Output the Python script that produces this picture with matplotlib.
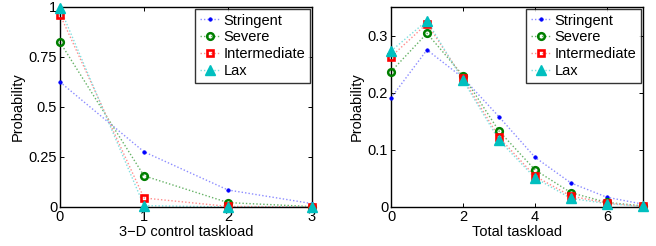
import matplotlib
matplotlib.use("Agg")
import matplotlib.pyplot as plt
import numpy as np
from matplotlib.lines import Line2D

plt.rcParams['font.family'] = ['Liberation Sans', 'DejaVu Sans']

x_left = [0, 1, 2, 3]
left_stringent = [0.625, 0.276, 0.085, 0.017]
left_severe = [0.824, 0.156, 0.022, 0.002]
left_intermediate = [0.962, 0.045, 0.003, 0.0]
left_lax = [0.995, 0.007, 0.0, 0.0]

x_right = [0, 1, 2, 3, 4, 5, 6, 7]
right_stringent = [0.191, 0.275, 0.226, 0.158, 0.087, 0.042, 0.017, 0.005]
right_severe = [0.237, 0.304, 0.230, 0.133, 0.065, 0.025, 0.008, 0.002]
right_intermediate = [0.263, 0.321, 0.225, 0.122, 0.054, 0.019, 0.007, 0.001]
right_lax = [0.273, 0.326, 0.222, 0.117, 0.051, 0.015, 0.006, 0.001]

labels = ['Stringent', 'Severe', 'Intermediate', 'Lax']
colors = ['#0000ff', '#007f00', '#ff0000', '#00bfbf']
pale = ['#8c8cff', '#66b266', '#ff8c8c', '#7fdfdf']
markers = [
    dict(marker='.', markersize=5, mfc='#0000ff', mec='#0000ff', mew=0.5),
    dict(marker='o', markersize=4.8, mfc='none', mec='#007f00', mew=1.8),
    dict(marker='s', markersize=4.5, mfc='none', mec='#ff0000', mew=1.9),
    dict(marker='^', markersize=6.5, mfc='#00bfbf', mec='#00bfbf', mew=1.0),
]

FS = 10.5
fig = plt.figure(figsize=(6.56, 2.46), dpi=100)
W, H = 656, 246
ax1 = fig.add_axes([60 / W, 1 - 207 / H, 252 / W, 200 / H])
ax2 = fig.add_axes([391 / W, 1 - 207 / H, 252 / W, 200 / H])

def style_ax(ax):
    ax.tick_params(direction='in', top=True, right=True, labelsize=FS, length=3, width=0.7, pad=2)
    for s in ax.spines.values():
        s.set_linewidth(1.0)

for ax, x, series in [
    (ax1, x_left, [left_stringent, left_severe, left_intermediate, left_lax]),
    (ax2, x_right, [right_stringent, right_severe, right_intermediate, right_lax]),
]:
    handles = []
    for y, lab, c, pc, mk in zip(series, labels, colors, pale, markers):
        ax.plot(x, y, linestyle=(0, (1, 1.5)), linewidth=1.0, color=pc, clip_on=False)
        ax.plot(x, y, linestyle='none', clip_on=False, zorder=3, **mk)
        handles.append(Line2D([], [], linestyle=(0, (1, 1.5)), linewidth=1.0, color=pc, **mk))
    style_ax(ax)
    ax.set_ylabel('Probability', fontsize=FS, labelpad=3)
    leg = ax.legend(handles, labels, loc='upper right', fontsize=FS, frameon=True, fancybox=False,
                    edgecolor='black', borderaxespad=0.15, handlelength=1.4,
                    labelspacing=0.2, borderpad=0.3, handletextpad=0.25)
    leg.get_frame().set_linewidth(1.0)

ax1.set_xlim(0, 3)
ax1.set_ylim(0, 1)
ax1.set_xticks([0, 1, 2, 3])
ax1.set_yticks([0, 0.25, 0.5, 0.75, 1])
ax1.set_yticklabels(['0', '0.25', '0.5', '0.75', '1'])
ax1.set_xlabel('3\u2212D control taskload', fontsize=FS, labelpad=1)

ax2.set_xlim(0, 7)
ax2.set_ylim(0, 0.35)
ax2.set_xticks([0, 2, 4, 6])
ax2.set_yticks([0, 0.1, 0.2, 0.3])
ax2.set_yticklabels(['0', '0.1', '0.2', '0.3'])
ax2.set_xlabel('Total taskload', fontsize=FS, labelpad=1)

fig.savefig('out.png', dpi=100)
